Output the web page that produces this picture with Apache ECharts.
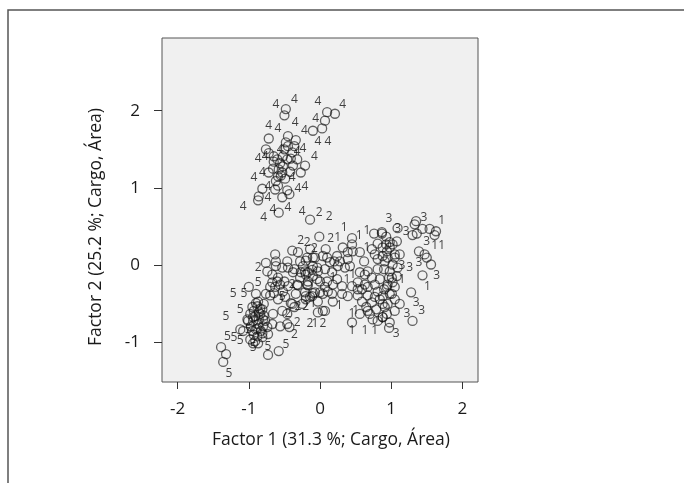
<!DOCTYPE html>
<html>
<head>
<meta charset="utf-8">
<script src="https://cdn.jsdelivr.net/npm/echarts@6/dist/echarts.min.js"></script>
<style>
  html, body { margin: 0; padding: 0; background: #fff; }
  #chart { width: 684px; height: 483px; }
</style>
</head>
<body>
<div id="chart"></div>
<script>
// tick values on both axes
const xTicks = [-2, -1, 0, 1, 2];
const yTicks = [-1, 0, 1, 2];

// circles (factor scores), by cluster
const pointsTop = [
    [-0.48, 2.02], [-0.50, 1.94], [0.10, 1.98], [0.21, 1.96], [0.07, 1.87], [-0.10, 1.74],
    [0.03, 1.77], [-0.72, 1.64], [-0.45, 1.67], [-0.34, 1.62], [-0.48, 1.59], [-0.45, 1.54],
    [-0.36, 1.54], [-0.76, 1.50], [-0.72, 1.45], [-0.65, 1.41], [-0.52, 1.41], [-0.39, 1.46],
    [-0.41, 1.38], [-0.32, 1.37], [-0.65, 1.34], [-0.56, 1.32], [-0.38, 1.29], [-0.21, 1.29],
    [-0.66, 1.25], [-0.58, 1.24], [-0.72, 1.20], [-0.53, 1.20], [-0.27, 1.20], [-0.59, 1.15],
    [-0.49, 1.12], [-0.62, 1.09], [-0.59, 1.03], [-0.81, 0.99], [-0.63, 0.98], [-0.46, 0.97],
    [-0.43, 0.92], [-0.86, 0.89], [-0.87, 0.84], [-0.53, 0.88], [-0.58, 0.68], [-0.14, 0.59],
    [-0.50, 1.50], [-0.46, 1.37], [-0.55, 1.16], [-0.42, 1.21], [-0.52, 1.28], [-0.60, 1.37]
];
const pointsLeft = [
    [-0.01, 0.37], [-0.39, 0.19], [-0.31, 0.17], [-0.63, 0.14], [-0.46, 0.05], [-0.20, 0.06],
    [-0.10, 0.10], [-0.76, 0.03], [-0.74, -0.08], [-0.62, -0.01], [-0.53, -0.03], [-0.45, -0.03],
    [-0.36, -0.05], [-0.27, -0.09], [-0.20, -0.12], [-0.11, -0.06], [-0.04, -0.03], [-0.10, -0.14],
    [-0.67, -0.22], [-0.60, -0.21], [-0.70, -0.28], [-0.63, -0.28], [-0.56, -0.25], [-1.00, -0.28],
    [-0.31, -0.26], [-0.17, -0.26], [-0.90, -0.37], [-0.76, -0.37], [-0.65, -0.36], [-0.52, -0.34],
    [-0.20, -0.40], [-0.10, -0.36],
    [-0.95, -0.54], [-0.88, -0.53], [-0.81, -0.57], [-0.98, -0.63], [-0.91, -0.66], [-0.84, -0.63],
    [-0.80, -0.70], [-0.94, -0.72], [-0.87, -0.76], [-1.01, -0.72], [-0.90, -0.83], [-0.83, -0.85],
    [-0.95, -0.85], [-0.88, -0.92], [-0.80, -0.79], [-1.02, -0.70], [-0.93, -0.59], [-0.86, -0.70],
    [-0.97, -0.79], [-0.81, -0.93], [-0.91, -0.98], [-0.98, -0.96], [-0.87, -0.47], [-0.79, -0.50],
    [-0.90, -0.49], [-0.84, -0.56], [-0.94, -0.67], [-0.88, -0.82], [-0.81, -0.88], [-0.93, -0.90],
    [-0.86, -0.61], [-0.79, -0.65],
    [-1.12, -0.83], [-1.08, -0.85], [-1.39, -1.06], [-1.32, -1.15], [-1.36, -1.25], [-0.94, -1.01],
    [-0.87, -1.01], [-0.73, -1.16], [-0.58, -1.11], [-0.73, -0.89], [-0.74, -0.80], [-0.67, -0.76],
    [-0.77, -0.72], [-0.56, -0.79], [-0.43, -0.80], [-0.66, -0.63], [-0.53, -0.59], [-0.46, -0.63],
    [-0.41, -0.49], [-0.36, -0.54], [-0.20, -0.44], [-0.14, -0.41], [-0.03, -0.61], [-0.46, -0.76],
    [-0.21, -0.08], [-0.28, -0.16], [-0.38, -0.09], [-0.17, -0.21], [-0.04, -0.18], [-0.32, -0.25],
    [-0.45, -0.27], [-0.11, -0.40], [0.00, -0.35], [0.07, -0.28], [-0.25, -0.50], [-0.39, -0.50],
    [0.07, -0.59], [0.04, 0.12], [0.14, 0.04],
    [-0.67, -0.12], [-0.59, -0.16], [-0.50, -0.21], [-0.70, -0.39], [-0.59, -0.44], [-0.49, -0.41],
    [-0.62, 0.05]
];
const pointsMiddle = [
    [0.45, 0.35], [0.45, 0.27], [0.76, 0.41], [0.87, 0.41], [1.09, 0.48], [-0.18, 0.10],
    [-0.07, 0.10], [0.10, 0.10], [0.24, 0.12], [0.32, 0.23], [0.39, 0.17], [0.46, 0.18],
    [0.56, 0.17], [0.81, 0.28], [0.88, 0.23], [0.98, 0.23], [0.77, 0.14], [0.88, 0.12],
    [0.95, 0.10], [1.05, 0.10], [0.81, 0.08], [0.28, 0.05], [0.39, 0.08], [0.25, -0.01],
    [0.35, -0.03], [0.42, -0.01], [0.56, -0.09], [0.63, -0.12], [0.67, -0.08], [-0.24, -0.01],
    [-0.10, -0.01], [-0.17, -0.09], [-0.03, -0.08], [0.07, -0.05], [0.17, -0.09], [-0.18, -0.25],
    [0.00, -0.21], [0.10, -0.21], [0.18, -0.25], [0.31, -0.27], [0.45, -0.27], [0.53, -0.22],
    [0.63, -0.25], [0.67, -0.28], [0.77, -0.25], [-0.21, -0.35], [-0.07, -0.35], [0.04, -0.37],
    [0.18, -0.47], [0.31, -0.37], [0.39, -0.40], [0.04, -0.59], [0.45, -0.74], [0.74, -0.70],
    [0.88, -0.67], [0.97, -0.81], [0.56, -0.63],
    [0.59, -0.31], [0.67, -0.39], [0.73, -0.48], [0.81, -0.34], [0.84, -0.44], [0.91, -0.54],
    [0.79, -0.57], [0.65, -0.54], [0.98, -0.37], [1.05, -0.44], [0.70, -0.63], [0.84, -0.18],
    [0.73, -0.16], [0.95, -0.25], [0.59, -0.47], [0.53, -0.39],
    [-0.28, 0.05], [-0.14, 0.21], [0.08, 0.21], [0.20, 0.05], [0.11, -0.34], [0.24, -0.18],
    [-0.34, -0.37], [-0.03, -0.47], [0.17, -0.37],
    [0.73, 0.21], [0.81, -0.05], [0.62, 0.05], [0.53, -0.31], [0.77, -0.41], [0.88, -0.50],
    [0.67, -0.59], [0.81, -0.72], [1.02, 0.27], [0.93, 0.37], [1.09, -0.03], [1.01, -0.16]
];
const pointsRight = [
    [1.35, 0.57], [1.33, 0.53], [1.30, 0.39], [1.36, 0.41], [1.44, 0.47], [1.54, 0.47],
    [1.63, 0.44], [1.61, 0.39], [1.39, 0.18], [1.47, 0.14], [1.50, 0.10], [1.56, 0.01],
    [1.44, -0.13], [1.28, -0.35], [1.30, -0.72], [0.87, 0.43], [0.98, 0.30], [1.08, 0.31],
    [0.94, 0.18], [1.05, 0.14], [1.12, 0.14], [0.91, 0.05], [1.02, 0.01], [0.98, -0.08],
    [1.08, -0.14], [1.02, -0.22], [0.94, -0.28], [1.05, -0.28], [0.88, -0.40], [1.01, -0.37],
    [1.12, -0.50], [0.95, -0.50], [1.05, -0.59], [0.94, -0.63], [0.98, -0.74], [0.88, -0.67],
    [0.93, 0.27], [0.90, -0.05], [0.97, -0.16], [0.90, -0.31]
];

// case labels (group number), placed where they appear
const labels1 = [
    [-0.10, -0.49], [-0.07, -0.76], [0.25, 0.36], [0.34, 0.49], [0.55, 0.39], [0.66, 0.45],
    [0.66, 0.23], [0.46, -0.12], [0.18, -0.16], [0.38, -0.19], [0.27, -0.52], [0.45, -0.62],
    [0.50, -0.59], [0.45, -0.84], [0.63, -0.84], [0.77, -0.84], [1.71, 0.58], [1.61, 0.25],
    [1.71, 0.25], [1.51, -0.27], [1.15, -0.18], [0.87, -0.70]
];
const labels2 = [
    [-0.01, 0.68], [0.13, 0.63], [-0.27, 0.32], [-0.18, 0.30], [-0.08, 0.22], [-0.87, -0.03],
    [-0.39, -0.25], [-0.31, -0.53], [-0.20, -0.54], [-0.45, -0.63], [-0.32, -0.74], [-0.14, -0.76],
    [-0.36, -0.90], [0.15, 0.34], [0.04, -0.76]
];
const labels3 = [
    [0.97, 0.61], [1.46, 0.62], [1.09, 0.47], [1.21, 0.44], [1.50, 0.31], [1.39, 0.03],
    [1.26, -0.03], [1.15, 0.00], [1.64, -0.13], [1.35, -0.48], [1.43, -0.59], [1.22, -0.63],
    [1.07, -0.88]
];
const labels4 = [
    [-0.62, 2.08], [-0.36, 2.14], [-0.03, 2.12], [0.32, 2.08], [-0.06, 1.90], [-0.35, 1.85],
    [-0.72, 1.81], [-0.59, 1.77], [-0.22, 1.74], [-0.03, 1.60], [0.11, 1.60], [-0.24, 1.51],
    [-0.56, 1.50], [-0.32, 1.47], [-0.08, 1.41], [-0.87, 1.38], [-0.77, 1.41], [-0.81, 1.20],
    [-0.93, 1.14], [-0.39, 1.14], [-0.73, 1.02], [-0.31, 0.99], [-0.21, 1.02], [-0.73, 0.87],
    [-1.08, 0.76], [-0.66, 0.72], [-0.45, 0.75], [-0.25, 0.70], [-0.79, 0.62]
];
const labels5 = [
    [-0.87, -0.23], [-1.22, -0.37], [-1.07, -0.36], [-1.12, -0.57], [-1.32, -0.67], [-1.01, -0.83],
    [-1.30, -0.92], [-1.21, -0.94], [-1.12, -0.98], [-0.94, -1.06], [-0.73, -1.05], [-0.48, -1.02],
    [-1.28, -1.40], [-0.53, -0.41]
];

const chart = echarts.init(document.getElementById('chart'));

const allPoints = pointsTop.concat(pointsLeft, pointsMiddle, pointsRight);
const labelData = [];
[[labels1, '1'], [labels2, '2'], [labels3, '3'], [labels4, '4'], [labels5, '5']].forEach(function (g) {
    g[0].forEach(function (p) { labelData.push([p[0], p[1], g[1]]); });
});

const FONT = 'Open Sans';

const option = {
    animation: false,
    backgroundColor: '#fff',
    grid: {
        left: 162,
        top: 38,
        width: 316,
        height: 344,
        show: true,
        backgroundColor: '#f0f0f0',
        borderColor: '#555',
        borderWidth: 1
    },
    xAxis: {
        type: 'value',
        min: -2.22,
        max: 2.22,
        splitLine: { show: false },
        axisLine: { show: false, onZero: false },
        axisTick: {
            show: true,
            length: 7,
            customValues: xTicks,
            lineStyle: { color: '#333', width: 1 }
        },
        axisLabel: {
            customValues: xTicks,
            margin: 19,
            color: '#1a1a1a',
            fontSize: 17,
            fontFamily: FONT
        }
    },
    yAxis: {
        type: 'value',
        min: -1.51,
        max: 2.94,
        splitLine: { show: false },
        axisLine: { show: false, onZero: false },
        axisTick: {
            show: true,
            length: 8,
            customValues: yTicks,
            lineStyle: { color: '#333', width: 1 }
        },
        axisLabel: {
            customValues: yTicks,
            margin: 22,
            color: '#1a1a1a',
            fontSize: 17,
            fontFamily: FONT
        }
    },
    graphic: [
        {
            type: 'rect',
            shape: { x: 8, y: 10, width: 720, height: 520 },
            style: { fill: 'none', stroke: '#555', lineWidth: 1.5 },
            silent: true
        },
        {
            type: 'text',
            x: 331,
            y: 440,
            style: {
                text: 'Factor 1 (31.3 %; Cargo, Área)',
                fill: '#1a1a1a',
                font: '17.5px "Open Sans"',
                align: 'center',
                verticalAlign: 'middle'
            }
        },
        {
            type: 'text',
            x: 96,
            y: 227,
            rotation: Math.PI / 2,
            style: {
                text: 'Factor 2 (25.2 %; Cargo, Área)',
                fill: '#1a1a1a',
                font: '17.5px "Open Sans"',
                align: 'center',
                verticalAlign: 'middle'
            }
        }
    ],
    series: [
        {
            type: 'scatter',
            silent: true,
            symbol: 'circle',
            symbolSize: 9,
            itemStyle: {
                color: 'rgba(0,0,0,0)',
                borderColor: 'rgba(15,15,15,0.8)',
                borderWidth: 1.3
            },
            data: allPoints
        },
        {
            type: 'scatter',
            silent: true,
            symbolSize: 0,
            label: {
                show: true,
                position: 'inside',
                formatter: function (p) { return p.value[2]; },
                color: '#111',
                fontSize: 12,
                fontFamily: FONT
            },
            data: labelData
        }
    ]
};

chart.setOption(option);

window.addEventListener('resize', function () {
    chart.resize();
});
</script>
</body>
</html>
